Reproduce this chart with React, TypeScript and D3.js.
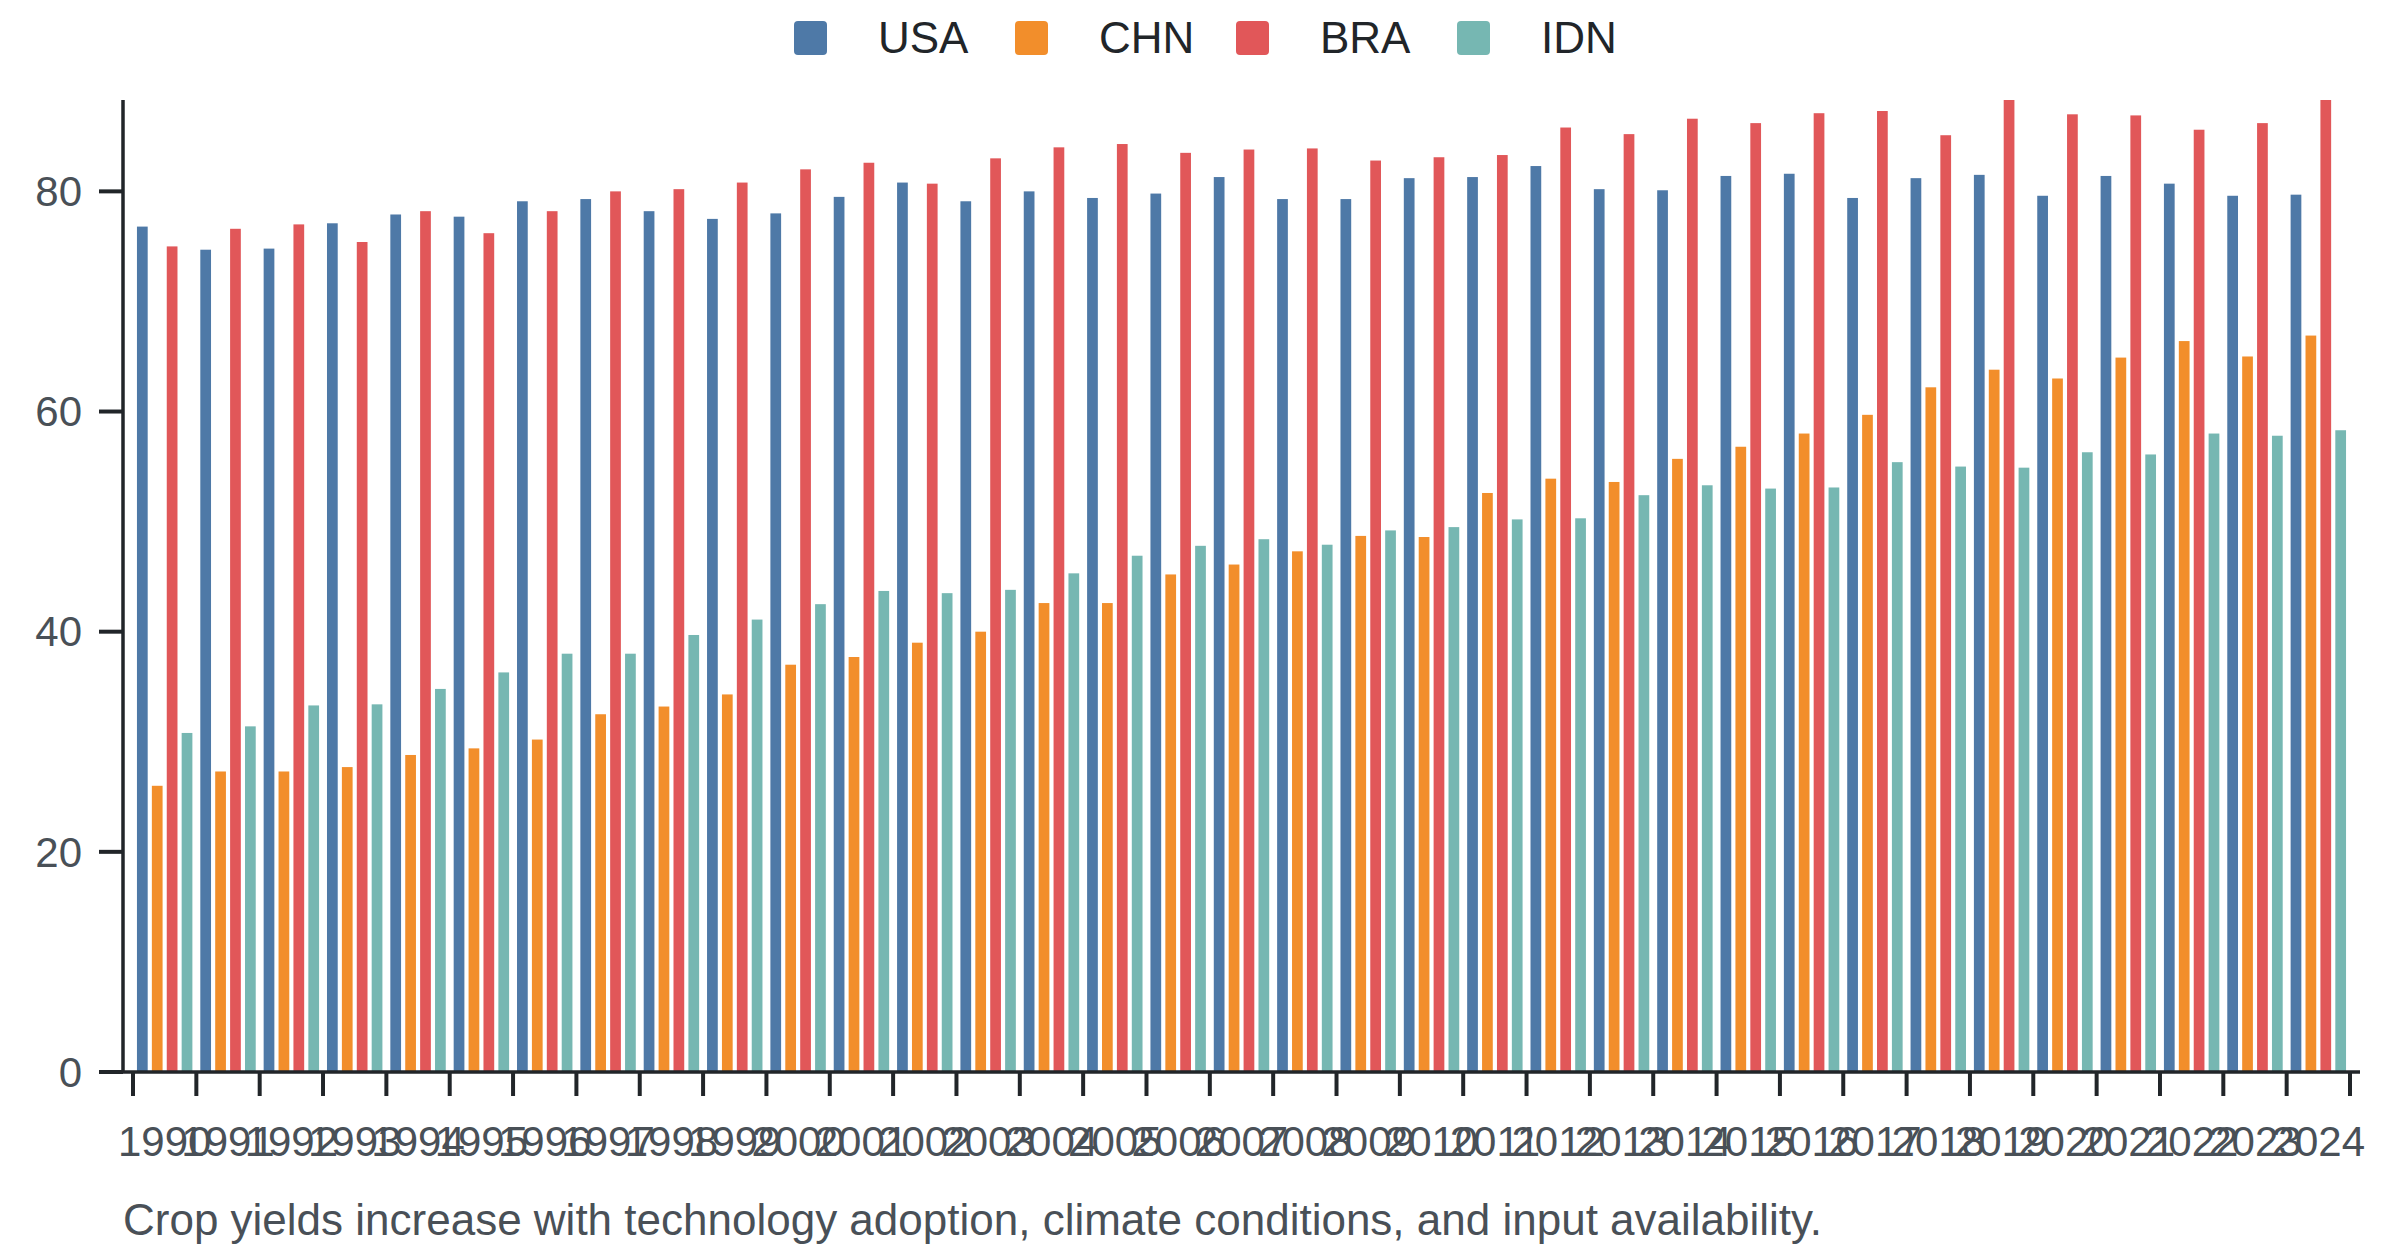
import * as d3 from "d3";

const years = d3.range(1990, 2025).map(String);
const series = ["USA", "CHN", "BRA", "IDN"];
const colors = ["#4e79a7", "#f28e2b", "#e15759", "#76b7b2"];

const usa = [
  76.8, 74.7, 74.8, 77.1, 77.9, 77.7, 79.1, 79.3, 78.2, 77.5, 78.0, 79.5, 80.8,
  79.1, 80.0, 79.4, 79.8, 81.3, 79.3, 79.3, 81.2, 81.3, 82.3, 80.2, 80.1, 81.4,
  81.6, 79.4, 81.2, 81.5, 79.6, 81.4, 80.7, 79.6, 79.7,
];
const chn = [
  26.0, 27.3, 27.3, 27.7, 28.8, 29.4, 30.2, 32.5, 33.2, 34.3, 37.0, 37.7, 39.0,
  40.0, 42.6, 42.6, 45.2, 46.1, 47.3, 48.7, 48.6, 52.6, 53.9, 53.6, 55.7, 56.8,
  58.0, 59.7, 62.2, 63.8, 63.0, 64.9, 66.4, 65.0, 66.9,
];
const bra = [
  75.0, 76.6, 77.0, 75.4, 78.2, 76.2, 78.2, 80.0, 80.2, 80.8, 82.0, 82.6, 80.7,
  83.0, 84.0, 84.3, 83.5, 83.8, 83.9, 82.8, 83.1, 83.3, 85.8, 85.2, 86.6, 86.2,
  87.1, 87.3, 85.1, 88.3, 87.0, 86.9, 85.6, 86.2, 88.3,
];
const idn = [
  30.8, 31.4, 33.3, 33.4, 34.8, 36.3, 38.0, 38.0, 39.7, 41.1, 42.5, 43.7, 43.5,
  43.8, 45.3, 46.9, 47.8, 48.4, 47.9, 49.2, 49.5, 50.2, 50.3, 52.4, 53.3, 53.0,
  53.1, 55.4, 55.0, 54.9, 56.3, 56.1, 58.0, 57.8, 58.3,
];
const yTicks = [0, 20, 40, 60, 80];
const caption =
  "Crop yields increase with technology adoption, climate conditions, and input availability.";

const values = [usa, chn, bra, idn];

const W = 2400;
const H = 1256;
const left = 123;
const bottom = 1072;
const top = 100;
const font = "'Liberation Sans', Arial, Helvetica, sans-serif";
const axisColor = "#212529";
const labelColor = "#495057";

export default function App() {
  const x = d3
    .scaleBand<string>()
    .domain(years)
    .range([133, 2350])
    .paddingInner(0.125)
    .paddingOuter(0.0625);
  const xInner = d3
    .scaleBand<string>()
    .domain(series)
    .range([0, x.bandwidth()])
    .paddingInner(0.28);
  const maxVal = d3.max(values.flat()) as number;
  const y = d3.scaleLinear().domain([0, maxVal]).range([bottom, top]);

  // ticks sit on the band boundaries, labels on the band centres
  const half = (x.step() * 0.125) / 2;
  const tickXs = years.map((yr) => (x(yr) as number) - half);
  tickXs.push((x(years[years.length - 1]) as number) + x.bandwidth() + half);

  return (
    <svg
      width={W}
      height={H}
      style={{ position: "absolute", left: 0, top: 0, background: "#fff" }}
      fontFamily={font}
    >
      {/* legend */}
      <g>
        {series.map((s, i) => (
          <g key={s} transform={`translate(${794 + i * 221}, 21)`}>
            <rect width={33} height={34} rx={4} fill={colors[i]} />
            <text x={84} y={32} fontSize={44} fill={axisColor}>
              {s}
            </text>
          </g>
        ))}
      </g>

      {/* bars */}
      {years.map((yr, j) => (
        <g key={yr} transform={`translate(${x(yr)}, 0)`}>
          {series.map((s, i) => (
            <rect
              key={s}
              x={xInner(s)}
              y={y(values[i][j])}
              width={xInner.bandwidth()}
              height={bottom - y(values[i][j])}
              fill={colors[i]}
            />
          ))}
        </g>
      ))}

      {/* y axis */}
      <line
        x1={left}
        x2={left}
        y1={top}
        y2={bottom}
        stroke={axisColor}
        strokeWidth={3.5}
      />
      {yTicks.map((t) => (
        <g key={t} transform={`translate(0, ${y(t)})`}>
          <line x1={99} x2={left} stroke={axisColor} strokeWidth={4} />
          <text
            x={82}
            dy="0.35em"
            textAnchor="end"
            fontSize={42}
            fill={labelColor}
          >
            {t}
          </text>
        </g>
      ))}

      {/* x axis */}
      <line
        x1={left}
        x2={2360}
        y1={bottom}
        y2={bottom}
        stroke={axisColor}
        strokeWidth={3.5}
      />
      {tickXs.map((tx, i) => (
        <line
          key={i}
          x1={tx}
          x2={tx}
          y1={bottom}
          y2={1096}
          stroke={axisColor}
          strokeWidth={4}
        />
      ))}
      {years.map((yr) => (
        <text
          key={yr}
          x={(x(yr) as number) + x.bandwidth() / 2}
          y={1156}
          textAnchor="middle"
          fontSize={42}
          fill={labelColor}
        >
          {yr}
        </text>
      ))}

      {/* caption */}
      <text x={123} y={1235} fontSize={44} fill={labelColor}>
        {caption}
      </text>
    </svg>
  );
}
